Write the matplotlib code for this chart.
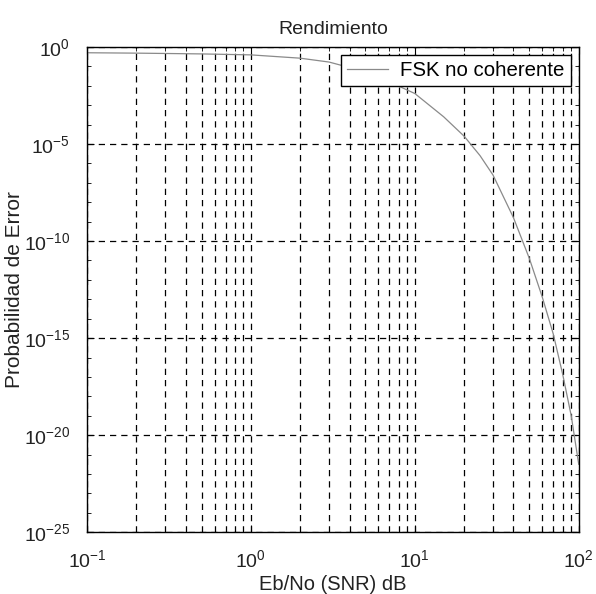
import matplotlib
matplotlib.use("Agg")
import matplotlib.pyplot as plt
import numpy as np
from matplotlib.ticker import LogLocator, NullFormatter

# Eb/No (linear) and error probability (log10 of Pe)
snr = [0.1, 0.2, 0.5, 1, 2, 3, 5, 7, 10, 15, 20, 25, 30, 40, 50, 60, 70, 80, 90, 100]
log_pe = [-0.30, -0.32, -0.36, -0.41, -0.58, -0.78, -1.28, -1.80, -2.40, -3.60,
          -4.60, -5.60, -6.60, -8.80, -10.9, -12.9, -14.8, -16.9, -19.0, -21.5]
pe = [10.0 ** v for v in log_pe]

title = "Rendimiento"
xlabel = "Eb/No (SNR) dB"
ylabel = "Probabilidad de Error"
legend_label = "FSK no coherente"

plt.rcParams['font.family'] = ['Liberation Sans', 'DejaVu Sans']
plt.rcParams['mathtext.fontset'] = 'custom'
plt.rcParams['mathtext.rm'] = 'Liberation Sans'
plt.rcParams['mathtext.it'] = 'Liberation Sans'
plt.rcParams['axes.unicode_minus'] = False

fig = plt.figure(figsize=(5.96, 5.94), dpi=100)
ax = fig.add_axes([0.146, 0.104, 0.825, 0.817])

ax.loglog(snr, pe, color="#8a8a8a", lw=0.9, label=legend_label)

ax.set_xlim(0.1, 100)
ax.set_ylim(1e-25, 1e0)

ax.xaxis.set_major_locator(LogLocator(base=10, numticks=10))
ax.xaxis.set_minor_locator(LogLocator(base=10, subs=np.arange(2, 10), numticks=20))
ax.xaxis.set_minor_formatter(NullFormatter())
ax.set_yticks([1e-25, 1e-20, 1e-15, 1e-10, 1e-5, 1e0])
ax.yaxis.set_minor_locator(LogLocator(base=10, subs=(1.0,), numticks=40))
ax.yaxis.set_minor_formatter(NullFormatter())

grid_style = dict(color="black", linestyle=(0, (5, 4)), linewidth=0.9)
ax.grid(True, which="major", axis="both", **grid_style)
ax.grid(True, which="minor", axis="x", **grid_style)

ax.tick_params(which="both", direction="in", top=True, right=True,
               labelsize=14, pad=12, color="black")
ax.tick_params(which="major", length=5)
ax.tick_params(which="minor", length=3)

for s in ax.spines.values():
    s.set_linewidth(1.0)

ax.set_title(title, fontsize=14, color="#222222", pad=9)
ax.set_xlabel(xlabel, fontsize=14.5, color="#222222", labelpad=3)
ax.set_ylabel(ylabel, fontsize=15, color="#222222")
ax.yaxis.set_label_coords(-0.128, 0.5)
for lbl in ax.get_xticklabels() + ax.get_yticklabels():
    lbl.set_color("#222222")

leg = ax.legend(loc="upper right", fontsize=14.7, frameon=True, fancybox=False,
                borderaxespad=0.4, handlelength=2.0, borderpad=0.3,
                handletextpad=0.6)
leg.get_frame().set_edgecolor("black")
leg.get_frame().set_linewidth(1.0)
leg.get_frame().set_alpha(1.0)

fig.savefig("out.png", dpi=100)
